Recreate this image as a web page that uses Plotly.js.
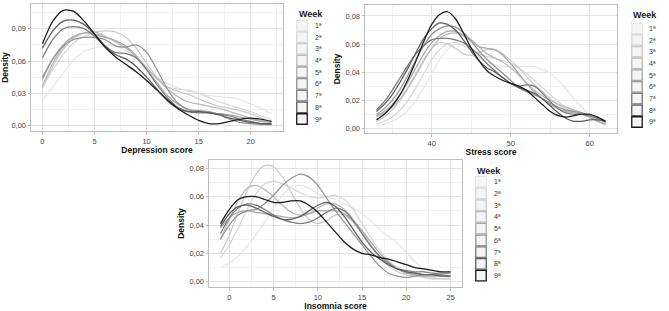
<!DOCTYPE html>
<html><head><meta charset="utf-8">
<script src="https://cdn.plot.ly/plotly-3.0.1.min.js"></script>
<style>html,body{margin:0;padding:0;background:#fff}</style>
</head><body><div id="chart" style="width:669px;height:311px"></div>
<script>
// ---------- data ----------
const weekLabels = ['1ª','2ª','3ª','4ª','5ª','6ª','7ª','8ª','9ª'];
const weekColors = ['#e6e6e6','#d8d8d8','#cacaca','#bababa','#a8a8a8','#949494','#7b7b7b','#5c5c5c','#1a1a1a'];

// Depression score (x = 0..22)
const depressionX = [0,1,2,3,4,5,6,7,8,9,10,11,12,13,14,15,16,17,18,19,20,21,22];
const depW1 = [0.024,0.036,0.049,0.061,0.069,0.072,0.074,0.074,0.070,0.062,0.052,0.045,0.039,0.035,0.032,0.030,0.028,0.027,0.026,0.024,0.020,0.016,0.011];
const depW2 = [0.036,0.052,0.066,0.077,0.083,0.085,0.083,0.079,0.073,0.064,0.053,0.043,0.036,0.034,0.033,0.030,0.026,0.022,0.019,0.016,0.013,0.009,0.006];
const depW3 = [0.035,0.055,0.071,0.081,0.086,0.087,0.088,0.087,0.082,0.072,0.058,0.045,0.036,0.032,0.029,0.025,0.021,0.018,0.016,0.014,0.011,0.007,0.004];
const depW4 = [0.037,0.058,0.073,0.082,0.086,0.087,0.083,0.078,0.072,0.064,0.054,0.044,0.034,0.027,0.022,0.020,0.018,0.016,0.013,0.010,0.007,0.005,0.003];
const depW5 = [0.043,0.062,0.075,0.083,0.086,0.085,0.082,0.079,0.074,0.065,0.052,0.040,0.028,0.020,0.015,0.013,0.012,0.011,0.010,0.008,0.006,0.004,0.003];
const depW6 = [0.045,0.062,0.074,0.080,0.082,0.082,0.080,0.074,0.073,0.075,0.068,0.052,0.034,0.021,0.015,0.014,0.013,0.010,0.006,0.003,0.002,0.001,0.001];
const depW7 = [0.063,0.080,0.090,0.092,0.090,0.083,0.074,0.068,0.067,0.063,0.052,0.038,0.026,0.017,0.013,0.012,0.012,0.011,0.009,0.006,0.004,0.002,0.001];
const depW8 = [0.072,0.088,0.097,0.098,0.094,0.085,0.074,0.066,0.062,0.055,0.045,0.034,0.023,0.016,0.013,0.013,0.012,0.010,0.007,0.005,0.003,0.002,0.002];
const depW9 = [0.076,0.097,0.107,0.106,0.097,0.085,0.073,0.064,0.057,0.050,0.042,0.033,0.024,0.016,0.010,0.005,0.002,0.002,0.004,0.006,0.007,0.006,0.004];

// Stress score (x = 33..62)
const stressX = [33,34,35,36,37,38,39,40,41,42,43,44,45,46,47,48,49,50,51,52,53,54,55,56,57,58,59,60,61,62];
const strW1 = [0.002,0.003,0.005,0.008,0.013,0.020,0.029,0.039,0.049,0.056,0.060,0.059,0.055,0.050,0.047,0.045,0.044,0.044,0.044,0.044,0.044,0.042,0.039,0.034,0.028,0.021,0.015,0.009,0.005,0.002];
const strW2 = [0.003,0.005,0.008,0.013,0.020,0.029,0.039,0.049,0.056,0.060,0.061,0.059,0.056,0.053,0.051,0.050,0.048,0.046,0.043,0.039,0.034,0.029,0.024,0.019,0.015,0.013,0.011,0.008,0.005,0.003];
const strW3 = [0.005,0.008,0.013,0.020,0.029,0.039,0.049,0.057,0.061,0.060,0.057,0.053,0.052,0.054,0.056,0.056,0.053,0.048,0.043,0.037,0.031,0.026,0.021,0.017,0.014,0.012,0.010,0.008,0.005,0.003];
const strW4 = [0.008,0.011,0.015,0.021,0.029,0.038,0.048,0.057,0.064,0.067,0.068,0.067,0.063,0.058,0.053,0.050,0.047,0.043,0.038,0.032,0.027,0.023,0.020,0.017,0.015,0.013,0.011,0.008,0.005,0.003];
const strW5 = [0.009,0.012,0.017,0.024,0.033,0.043,0.053,0.061,0.066,0.069,0.069,0.066,0.062,0.058,0.057,0.056,0.052,0.046,0.039,0.032,0.026,0.021,0.017,0.014,0.012,0.011,0.010,0.008,0.005,0.003];
const strW6 = [0.010,0.014,0.020,0.028,0.038,0.049,0.059,0.067,0.071,0.073,0.072,0.068,0.062,0.055,0.049,0.044,0.039,0.034,0.029,0.026,0.024,0.021,0.018,0.015,0.013,0.012,0.011,0.009,0.007,0.004];
const strW7 = [0.013,0.019,0.027,0.036,0.045,0.053,0.059,0.063,0.064,0.064,0.063,0.061,0.057,0.052,0.046,0.041,0.036,0.032,0.030,0.031,0.030,0.025,0.019,0.014,0.011,0.010,0.010,0.009,0.007,0.005];
const strW8 = [0.012,0.017,0.024,0.033,0.043,0.054,0.064,0.071,0.075,0.074,0.070,0.063,0.055,0.048,0.043,0.040,0.036,0.032,0.029,0.027,0.025,0.021,0.016,0.011,0.007,0.005,0.005,0.006,0.006,0.005];
const strW9 = [0.006,0.010,0.016,0.024,0.035,0.048,0.062,0.074,0.081,0.083,0.078,0.068,0.057,0.048,0.041,0.037,0.034,0.032,0.030,0.027,0.022,0.017,0.012,0.009,0.008,0.009,0.010,0.010,0.008,0.005];

// Insomnia score (x = -1..25)
const insomniaX = [-1,0,1,2,3,4,5,6,7,8,9,10,11,12,13,14,15,16,17,18,19,20,21,22,23,24,25];
const insW1 = [0.010,0.013,0.018,0.025,0.033,0.042,0.052,0.061,0.067,0.068,0.066,0.062,0.060,0.058,0.055,0.052,0.048,0.043,0.037,0.032,0.027,0.021,0.014,0.009,0.006,0.004,0.003];
const insW2 = [0.017,0.026,0.038,0.051,0.062,0.069,0.071,0.069,0.066,0.063,0.060,0.059,0.060,0.061,0.058,0.051,0.041,0.031,0.022,0.015,0.010,0.007,0.005,0.004,0.003,0.002,0.002];
const insW3 = [0.020,0.033,0.049,0.064,0.076,0.082,0.081,0.074,0.063,0.052,0.044,0.041,0.043,0.047,0.047,0.042,0.034,0.025,0.017,0.011,0.007,0.005,0.004,0.003,0.002,0.002,0.002];
const insW4 = [0.030,0.044,0.057,0.066,0.068,0.065,0.060,0.054,0.049,0.047,0.048,0.052,0.055,0.055,0.051,0.044,0.035,0.026,0.018,0.012,0.009,0.007,0.006,0.005,0.005,0.004,0.004];
const insW5 = [0.038,0.045,0.049,0.050,0.049,0.048,0.047,0.046,0.045,0.046,0.048,0.050,0.050,0.050,0.048,0.043,0.036,0.028,0.020,0.014,0.009,0.006,0.005,0.004,0.004,0.004,0.004];
const insW6 = [0.030,0.040,0.047,0.050,0.051,0.055,0.061,0.068,0.073,0.076,0.074,0.068,0.059,0.050,0.042,0.034,0.026,0.018,0.011,0.006,0.004,0.003,0.004,0.005,0.005,0.005,0.004];
const insW7 = [0.034,0.045,0.052,0.055,0.054,0.051,0.047,0.044,0.042,0.041,0.042,0.045,0.049,0.052,0.050,0.043,0.034,0.025,0.018,0.013,0.009,0.008,0.007,0.007,0.006,0.006,0.006];
const insW8 = [0.039,0.048,0.053,0.054,0.052,0.049,0.046,0.044,0.044,0.046,0.050,0.054,0.056,0.053,0.046,0.037,0.028,0.021,0.016,0.012,0.009,0.007,0.006,0.005,0.005,0.004,0.004];
const insW9 = [0.041,0.051,0.058,0.060,0.060,0.058,0.056,0.056,0.057,0.057,0.054,0.049,0.042,0.035,0.028,0.023,0.020,0.019,0.017,0.016,0.014,0.012,0.010,0.009,0.008,0.007,0.007];

// ---------- build ----------
const W = 669, H = 311;
const px = (a, b) => [a / W, b / W];
const py = (top, bottom) => [1 - bottom / H, 1 - top / H];

const panels = [
  {x: depressionX, ys: [depW1,depW2,depW3,depW4,depW5,depW6,depW7,depW8,depW9], xa: 'x', ya: 'y'},
  {x: stressX, ys: [strW1,strW2,strW3,strW4,strW5,strW6,strW7,strW8,strW9], xa: 'x2', ya: 'y2'},
  {x: insomniaX, ys: [insW1,insW2,insW3,insW4,insW5,insW6,insW7,insW8,insW9], xa: 'x3', ya: 'y3'}
];

const traces = [];
panels.forEach(p => {
  p.ys.forEach((y, i) => {
    traces.push({
      type: 'scatter', mode: 'lines', x: p.x, y: y, xaxis: p.xa, yaxis: p.ya,
      name: weekLabels[i], showlegend: false, hoverinfo: 'skip',
      line: {color: weekColors[i], width: 1.25, shape: 'spline', smoothing: 0.8}
    });
  });
});

// legends drawn on hidden axes, one row per week (row 0 holds the title)
const rowIdx = weekLabels.map((_, i) => i + 1);
const legendDefs = [
  {xa: 'x4', ya: 'y4', labelX: 11, titleX: -5.5, titleY: 0.05},
  {xa: 'x5', ya: 'y5', labelX: 10, titleX: -6.5, titleY: -0.15},
  {xa: 'x6', ya: 'y6', labelX: 10.5, titleX: -6.5, titleY: 0.05}
];
const annotations = [];
legendDefs.forEach(L => {
  traces.push({
    type: 'scatter', mode: 'markers', x: rowIdx.map(() => 0), y: rowIdx,
    xaxis: L.xa, yaxis: L.ya, showlegend: false, hoverinfo: 'skip', cliponaxis: false,
    marker: {symbol: 'square', size: 10.5, color: '#f5f5f5', line: {color: weekColors, width: 1.3}}
  });
  weekLabels.forEach((lab, i) => {
    annotations.push({xref: L.xa, yref: L.ya, x: L.labelX, y: rowIdx[i], text: lab, showarrow: false,
      xanchor: 'left', yanchor: 'middle', font: {family: 'Liberation Sans', size: 7, color: '#333'}});
  });
  annotations.push({xref: L.xa, yref: L.ya, x: L.titleX, y: L.titleY, text: '<b>Week</b>', showarrow: false,
    xanchor: 'left', yanchor: 'middle', font: {family: 'Liberation Sans', size: 9, color: '#222'}});
});

const tickFont = {family: 'Liberation Sans', size: 7.5, color: '#444'};
const titleFont = {family: 'Liberation Sans', size: 8.5, color: '#111'};
function xAx(domain, range, dtick, title) {
  return {domain: domain, range: range, dtick: dtick, tick0: 0, showgrid: true, gridcolor: '#e3e3e3', gridwidth: 1,
    minor: {dtick: dtick / 2, showgrid: true, gridcolor: '#f1f1f1', gridwidth: 1},
    zeroline: false, showline: true, mirror: true, linecolor: '#bdbdbd', linewidth: 1,
    ticks: 'outside', ticklen: 2.5, tickcolor: '#bdbdbd', tickfont: tickFont,
    title: {text: '<b>' + title + '</b>', font: titleFont, standoff: 2}, fixedrange: true};
}
function yAx(domain, range, dtick, anchor) {
  return {domain: domain, range: range, dtick: dtick, tick0: 0, tickformat: '.2f', anchor: anchor,
    showgrid: true, gridcolor: '#e3e3e3', gridwidth: 1,
    minor: {dtick: dtick / 2, showgrid: true, gridcolor: '#f1f1f1', gridwidth: 1},
    zeroline: false, showline: true, mirror: true, linecolor: '#bdbdbd', linewidth: 1,
    ticks: 'outside', ticklen: 2.5, tickcolor: '#bdbdbd', tickfont: tickFont,
    title: {text: '<b>Density</b>', font: titleFont, standoff: 3}, fixedrange: true};
}
function hidden(domain, range, anchor) {
  return {domain: domain, range: range, visible: false, anchor: anchor, fixedrange: true};
}

const layout = {
  width: W, height: H, margin: {l: 0, r: 0, t: 0, b: 0},
  paper_bgcolor: '#fff', plot_bgcolor: '#fff', separators: ',.', showlegend: false,
  xaxis: Object.assign(xAx(px(31, 283), [-1.1, 23.1], 5, 'Depression score'), {anchor: 'y'}),
  yaxis: yAx(py(4, 131), [-0.0049, 0.1129], 0.03, 'x'),
  xaxis2: Object.assign(xAx(px(365, 617), [31.55, 63.45], 10, 'Stress score'), {anchor: 'y2'}),
  yaxis2: yAx(py(5, 133), [-0.00335, 0.0878], 0.02, 'x2'),
  xaxis3: Object.assign(xAx(px(209, 462), [-2.3, 26.3], 5, 'Insomnia score'), {anchor: 'y3'}),
  yaxis3: yAx(py(160, 287), [-0.00374, 0.0859], 0.02, 'x3'),
  xaxis4: hidden(px(290, 340), [-12, 38], 'y4'),
  yaxis4: hidden(py(7.95, 124.85), [9.5, -0.5], 'x4'),
  xaxis5: hidden(px(624, 669), [-13, 32], 'y5'),
  yaxis5: hidden(py(10.74, 127.85), [9.5, -0.5], 'x5'),
  xaxis6: hidden(px(468, 520), [-13, 39], 'y6'),
  yaxis6: hidden(py(164.05, 281.6), [9.5, -0.5], 'x6'),
  annotations: annotations
};

Plotly.newPlot('chart', traces, layout, {staticPlot: true, displayModeBar: false});
</script></body></html>
